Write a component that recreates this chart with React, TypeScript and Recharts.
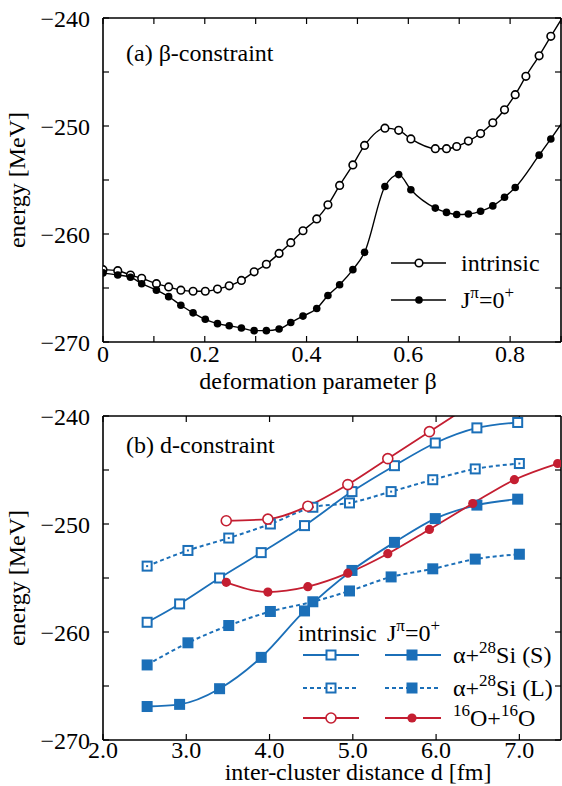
import { LineChart, Line, XAxis, YAxis } from 'recharts';

const FONT = '"Liberation Serif", "DejaVu Serif", serif';
const BLUE = '#1b6fb8';
const RED = '#c41e31';

// (a) beta-constraint
const betaIntrinsic = [0, 0.029, 0.054, 0.076, 0.105, 0.129, 0.153, 0.177, 0.201, 0.225, 0.248, 0.272, 0.297, 0.321, 0.346, 0.369, 0.393, 0.42, 0.442, 0.465, 0.491, 0.514, 0.554, 0.581, 0.605, 0.653, 0.675, 0.695, 0.718, 0.742, 0.766, 0.789, 0.81, 0.831, 0.857, 0.88, 0.905];
const energyIntrinsic = [-263.3, -263.4, -263.8, -264.1, -264.6, -264.9, -265.2, -265.3, -265.3, -265.1, -264.8, -264.3, -263.5, -262.8, -261.8, -260.8, -259.7, -258.6, -257.3, -255.5, -253.6, -251.8, -250.2, -250.4, -251.2, -252.1, -252.1, -251.9, -251.4, -250.7, -249.7, -248.5, -247.1, -245.4, -243.5, -241.7, -239.8];
const betaProjected = [0, 0.029, 0.054, 0.076, 0.105, 0.129, 0.153, 0.177, 0.201, 0.225, 0.248, 0.272, 0.297, 0.321, 0.346, 0.369, 0.393, 0.42, 0.442, 0.465, 0.491, 0.514, 0.554, 0.581, 0.605, 0.653, 0.675, 0.695, 0.718, 0.742, 0.766, 0.789, 0.81, 0.857, 0.88, 0.905];
const energyProjected = [-263.6, -263.8, -264.0, -264.6, -265.2, -265.8, -266.6, -267.3, -267.9, -268.3, -268.5, -268.7, -268.95, -268.95, -268.8, -268.2, -267.6, -266.9, -265.7, -264.7, -263.3, -261.7, -255.6, -254.5, -255.9, -257.6, -258.0, -258.2, -258.15, -257.9, -257.4, -256.6, -255.7, -252.7, -251.2, -249.5];

// (b) d-constraint
const dSiS = [2.53, 2.92, 3.4, 3.9, 4.42, 4.99, 5.5, 5.99, 6.49, 6.98];
const siSIntrinsic = [-259.1, -257.4, -255.0, -252.65, -250.15, -247.0, -244.6, -242.5, -241.1, -240.6];
const siSProjected = [-266.9, -266.7, -265.25, -262.35, -258.05, -254.3, -251.7, -249.5, -248.25, -247.7];
const dSiL = [2.53, 3.02, 3.51, 4.01, 4.52, 4.96, 5.46, 5.96, 6.47, 7.0];
const siLIntrinsic = [-253.9, -252.45, -251.3, -250.0, -248.45, -248.05, -247.0, -245.9, -244.9, -244.4];
const siLProjected = [-263.05, -261.0, -259.4, -258.1, -257.2, -256.2, -254.9, -254.15, -253.25, -252.8];
const dOOIntrinsic = [3.48, 3.98, 4.46, 4.94, 5.42, 5.92, 6.43];
const ooIntrinsic = [-249.7, -249.55, -248.35, -246.35, -243.95, -241.45, -238.9];
const dOO = [3.48, 3.98, 4.46, 4.94, 5.42, 5.92, 6.44, 6.94, 7.46];
const ooProjected = [-255.4, -256.3, -255.8, -254.55, -252.75, -250.5, -248.1, -245.9, -244.4];

const betaTicks = [0, 0.1, 0.2, 0.3, 0.4, 0.5, 0.6, 0.7, 0.8, 0.9];
const dTicks = [2, 3, 4, 5, 6, 7];
const energyTicks = [-270, -265, -260, -255, -250, -245, -240];

const pairs = (xs: number[], ys: number[]) => xs.map((x, i) => ({ x, e: ys[i] }));

const fmtBeta = (v: number) => {
  const k = Math.round(v * 10);
  if (k % 2 !== 0) return '';
  return k === 0 ? '0' : v.toFixed(1);
};
const fmtD = (v: number) => v.toFixed(1);
const fmtE = (v: number) => (v % 10 === 0 ? '\u2212' + Math.abs(v) : '');
const blank = () => '';

type Kind = 'circleOpen' | 'circleFilled' | 'squareOpen' | 'squareFilled';

function Marker({ kind, color, x, y, size, dotted }: { kind: Kind; color: string; x: number; y: number; size: number; dotted?: boolean }) {
  if (kind === 'circleOpen') return <circle cx={x} cy={y} r={size} fill="#fff" stroke={color} strokeWidth={1.6} />;
  if (kind === 'circleFilled') return <circle cx={x} cy={y} r={size} fill={color} />;
  if (kind === 'squareFilled') return <rect x={x - size} y={y - size} width={size * 2} height={size * 2} fill={color} />;
  return (
    <g>
      <rect x={x - size + 1} y={y - size + 1} width={size * 2 - 2} height={size * 2 - 2} fill="#fff" stroke={color} strokeWidth={2} />
      {dotted && <rect x={x - 1} y={y - 1} width={2} height={2} fill={color} />}
    </g>
  );
}

// dots outside the frame are skipped (the line itself is clipped)
function makeDot(kind: Kind, color: string, size: number, xMax: number, eMax: number, dotted?: boolean) {
  return (p: any) => {
    const { cx, cy, payload, index } = p;
    if (cx == null || cy == null || payload.x > xMax || payload.e > eMax) return <g key={'d' + index} />;
    return (
      <g key={'d' + index}>
        <Marker kind={kind} color={color} x={cx} y={cy} size={size} dotted={dotted} />
      </g>
    );
  };
}

const tickStyle = { fill: '#000', fontSize: 24, fontFamily: FONT };
const lineStyle = { stroke: '#000', strokeWidth: 1.2 };
const frameStyle = { stroke: '#000', strokeWidth: 1.6 };

export default function App() {
  const common = { type: 'monotone' as const, dataKey: 'e', isAnimationActive: false, activeDot: false as const };
  const xAxes = (domain: [number, number], ticks: number[], fmt: (v: number) => string, h: number, gap: number) => [
    <XAxis key="xb" type="number" dataKey="x" domain={domain} allowDataOverflow ticks={ticks} interval={0}
      tickSize={-6} tickMargin={gap} tickFormatter={fmt} height={h} tick={tickStyle} tickLine={lineStyle} axisLine={frameStyle} />,
    <XAxis key="xt" xAxisId="top" orientation="top" type="number" dataKey="x" domain={domain} allowDataOverflow ticks={ticks} interval={0}
      tickSize={-6} tickFormatter={blank} height={1} tick={tickStyle} tickLine={lineStyle} axisLine={frameStyle} />,
  ];
  const yAxes = [
    <YAxis key="yl" type="number" domain={[-270, -240]} allowDataOverflow ticks={energyTicks} interval={0}
      tickSize={-6} tickMargin={19} tickFormatter={fmtE} width={103} tick={tickStyle} tickLine={lineStyle} axisLine={frameStyle} />,
    <YAxis key="yr" yAxisId="right" orientation="right" type="number" domain={[-270, -240]} allowDataOverflow ticks={energyTicks} interval={0}
      tickSize={-6} tickFormatter={blank} width={1} tick={tickStyle} tickLine={lineStyle} axisLine={frameStyle} />,
  ];

  return (
    <div style={{ position: 'absolute', left: 0, top: 0, width: 562, height: 786, background: '#fff', fontFamily: FONT }}>
      <div style={{ position: 'absolute', left: 0, top: 0 }}>
        <LineChart width={562} height={392} margin={{ top: 17, right: 0, bottom: 0, left: 0 }}>
          {xAxes([0, 0.9], betaTicks, fmtBeta, 50, 9)}
          {yAxes}
          <Line {...common} data={pairs(betaIntrinsic, energyIntrinsic)} stroke="#000" strokeWidth={1.4}
            dot={makeDot('circleOpen', '#000', 3.8, 0.9, -240)} />
          <Line {...common} data={pairs(betaProjected, energyProjected)} stroke="#000" strokeWidth={1.4}
            dot={makeDot('circleFilled', '#000', 3.8, 0.9, -240)} />
        </LineChart>
      </div>
      <div style={{ position: 'absolute', left: 0, top: 392 }}>
        <LineChart width={562} height={394} margin={{ top: 23, right: 0, bottom: 0, left: 0 }}>
          {xAxes([2, 7.5], dTicks, fmtD, 46, 7)}
          {yAxes}
          <Line {...common} data={pairs(dSiL, siLIntrinsic)} stroke={BLUE} strokeWidth={2} strokeDasharray="4 3"
            dot={makeDot('squareOpen', BLUE, 5.5, 7.5, -240, true)} />
          <Line {...common} data={pairs(dSiL, siLProjected)} stroke={BLUE} strokeWidth={2} strokeDasharray="4 3"
            dot={makeDot('squareFilled', BLUE, 5.5, 7.5, -240)} />
          <Line {...common} data={pairs(dSiS, siSIntrinsic)} stroke={BLUE} strokeWidth={1.8}
            dot={makeDot('squareOpen', BLUE, 5.5, 7.5, -240)} />
          <Line {...common} data={pairs(dSiS, siSProjected)} stroke={BLUE} strokeWidth={1.8}
            dot={makeDot('squareFilled', BLUE, 5.5, 7.5, -240)} />
          <Line {...common} data={pairs(dOOIntrinsic, ooIntrinsic)} stroke={RED} strokeWidth={1.8}
            dot={makeDot('circleOpen', RED, 5, 7.5, -240)} />
          <Line {...common} data={pairs(dOO, ooProjected)} stroke={RED} strokeWidth={1.8}
            dot={makeDot('circleFilled', RED, 4.6, 7.6, -240)} />
        </LineChart>
      </div>
      <svg width={562} height={786} style={{ position: 'absolute', left: 0, top: 0, pointerEvents: 'none' }}
        fontFamily={FONT} fontSize={24} fill="#000">
        {/* panel (a) */}
        <text x={126} y={61}>(a) β-constraint</text>
        <text x={318} y={389} textAnchor="middle">deformation parameter β</text>
        <text x={25} y={180} textAnchor="middle" transform="rotate(-90 25 180)">energy [MeV]</text>
        <line x1={391} x2={446} y1={263} y2={263} stroke="#000" strokeWidth={1.4} />
        <Marker kind="circleOpen" color="#000" x={419} y={263} size={3.8} />
        <text x={461} y={271}>intrinsic</text>
        <line x1={391} x2={446} y1={300} y2={300} stroke="#000" strokeWidth={1.4} />
        <Marker kind="circleFilled" color="#000" x={419} y={300} size={3.8} />
        <text x={461} y={308}>J<tspan dy={-10} fontSize={17}>π</tspan><tspan dy={10}>=0</tspan><tspan dy={-10} fontSize={17}>+</tspan></text>

        {/* panel (b) */}
        <text x={126} y={453}>(b) d-constraint</text>
        <text x={358} y={780} textAnchor="middle">inter-cluster distance d [fm]</text>
        <text x={25} y={578} textAnchor="middle" transform="rotate(-90 25 578)">energy [MeV]</text>
        <text x={298} y={641}>intrinsic</text>
        <text x={387} y={641}>J<tspan dy={-10} fontSize={17}>π</tspan><tspan dy={10}>=0</tspan><tspan dy={-10} fontSize={17}>+</tspan></text>

        <line x1={303} x2={359} y1={655} y2={655} stroke={BLUE} strokeWidth={1.8} />
        <Marker kind="squareOpen" color={BLUE} x={331} y={655} size={5.5} />
        <line x1={385} x2={441} y1={655} y2={655} stroke={BLUE} strokeWidth={1.8} />
        <Marker kind="squareFilled" color={BLUE} x={412} y={655} size={5.5} />
        <text x={453} y={663}>α+<tspan dy={-10} fontSize={17}>28</tspan><tspan dy={10}>Si (S)</tspan></text>

        <line x1={303} x2={359} y1={688} y2={688} stroke={BLUE} strokeWidth={2} strokeDasharray="4 3" />
        <Marker kind="squareOpen" color={BLUE} x={331} y={688} size={5.5} dotted />
        <line x1={385} x2={441} y1={688} y2={688} stroke={BLUE} strokeWidth={2} strokeDasharray="4 3" />
        <Marker kind="squareFilled" color={BLUE} x={412} y={688} size={5.5} />
        <text x={453} y={696}>α+<tspan dy={-10} fontSize={17}>28</tspan><tspan dy={10}>Si (L)</tspan></text>

        <line x1={303} x2={359} y1={718} y2={718} stroke={RED} strokeWidth={1.8} />
        <Marker kind="circleOpen" color={RED} x={331} y={718} size={5} />
        <line x1={385} x2={441} y1={718} y2={718} stroke={RED} strokeWidth={1.8} />
        <Marker kind="circleFilled" color={RED} x={412} y={718} size={4.6} />
        <text x={453} y={726}><tspan dy={-10} fontSize={17}>16</tspan><tspan dy={10}>O+</tspan><tspan dy={-10} fontSize={17}>16</tspan><tspan dy={10}>O</tspan></text>
      </svg>
    </div>
  );
}
